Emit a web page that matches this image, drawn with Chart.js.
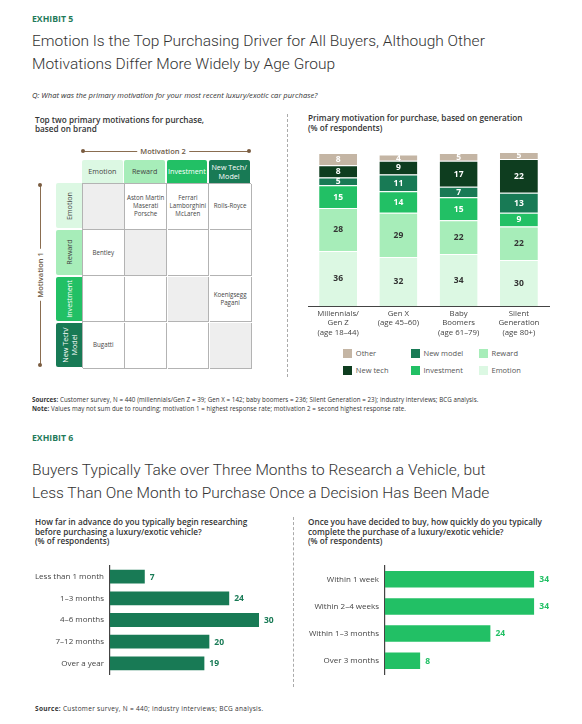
<!DOCTYPE html>
<html>
<head>
<meta charset="utf-8">
<script src="https://cdn.jsdelivr.net/npm/chart.js@4.4.1/dist/chart.umd.min.js"></script>
<style>
  body { margin: 0; background: #fff; font-family: "Open Sans", sans-serif; color: #333; }
  #page { position: relative; width: 582px; height: 724px; overflow: hidden; }
  .abs { position: absolute; white-space: nowrap; }
  .exh { font-weight: 700; font-size: 8.7px; line-height: 10px; color: #1f7a5a; }
  .ttl { font-family: Roboto, sans-serif; font-weight: 300; font-size: 15.5px; line-height: 23.3px; color: #333; }
  .q { font-style: italic; font-size: 7.6px; line-height: 10px; color: #333; }
  .sub { font-weight: 600; font-size: 8.2px; line-height: 9.8px; color: #333; }
  .src { font-size: 6.2px; line-height: 9px; color: #333; letter-spacing: 0.06px; }
  .src2 { font-size: 6.5px; line-height: 9px; color: #333; letter-spacing: 0.3px; }
  .src b, .src2 b { font-weight: 700; }
  .vsep { position: absolute; border-left: 1px dashed #aaa; width: 0; }
  .hdr { position: absolute; display: flex; align-items: center; justify-content: center; text-align: center;
         font-size: 7.2px; line-height: 8.5px; border-radius: 2px 2px 0 0; }
  .rhdr { position: absolute; border-radius: 2px 0 0 2px; }
  .rhdr span { position: absolute; left: 50%; top: 50%; transform: translate(-50%, -50%) rotate(-90deg);
               text-align: center; font-size: 7.2px; line-height: 8.5px; white-space: nowrap; }
  .cell { position: absolute; box-sizing: border-box; border-right: 1px solid #b3b3b3; border-bottom: 1px solid #b3b3b3;
          display: flex; align-items: center; justify-content: center; text-align: center;
          font-size: 6.2px; line-height: 8px; color: #444; }
  .brk { position: absolute; background: #8a6d50; }
  .dot { position: absolute; width: 4px; height: 4px; border-radius: 50%; background: #7a5c40; }
  .brklbl { position: absolute; font-weight: 600; font-size: 7.5px; color: #6e5b48; background: #fff; padding: 0 3px; white-space: nowrap; }
  .leg { position: absolute; font-size: 7.5px; line-height: 9px; color: #555; white-space: nowrap; }
  .leg i { position: absolute; left: 0; top: 0; width: 9px; height: 9px; }
  .leg span { position: absolute; left: 12.5px; top: 0; }
  canvas { position: absolute; }
</style>
</head>
<body>
<div id="page">
  <div class="abs exh" style="left:32px;top:14.3px;">EXHIBIT 5</div>
  <div class="abs ttl" style="left:32px;top:30px;">Emotion Is the Top Purchasing Driver for All Buyers, Although Other<br>Motivations Differ More Widely by Age Group</div>
  <div class="abs q" style="left:32px;top:90px;">Q: What was the primary motivation for your most recent luxury/exotic car purchase?</div>

  <div class="abs sub" style="left:35px;top:114.5px;">Top two primary motivations for purchase,<br>based on brand</div>
  <div class="abs sub" style="left:308px;top:113.3px;">Primary motivation for purchase, based on generation<br>(% of respondents)</div>
  <div class="vsep" style="left:287px;top:114px;height:263px;"></div>

  <div id="matrix"></div>

  <div style="position:absolute;left:300px;top:140px;width:260px;height:206px;"><canvas id="genChart"></canvas></div>
  <div id="legend"></div>

  <div class="abs src" style="left:32px;top:394.5px;"><b>Sources:</b> Customer survey, N = 440 (millennials/Gen Z = 39; Gen X = 142; baby boomers = 236; Silent Generation = 23); industry interviews; BCG analysis.<br><b>Note:</b> Values may not sum due to rounding; motivation 1 = highest response rate; motivation 2 = second highest response rate.</div>

  <div class="abs exh" style="left:32px;top:433px;">EXHIBIT 6</div>
  <div class="abs ttl" style="left:32px;top:458.5px;">Buyers Typically Take over Three Months to Research a Vehicle, but<br>Less Than One Month to Purchase Once a Decision Has Been Made</div>

  <div class="abs sub" style="left:35px;top:516.8px;">How far in advance do you typically begin researching<br>before purchasing a luxury/exotic vehicle?<br>(% of respondents)</div>
  <div class="abs sub" style="left:308px;top:516.8px;">Once you have decided to buy, how quickly do you typically<br>complete the purchase of a luxury/exotic vehicle?<br>(% of respondents)</div>
  <div class="vsep" style="left:293px;top:517px;height:170px;"></div>

  <div style="position:absolute;left:20px;top:555px;width:260px;height:130px;"><canvas id="researchChart"></canvas></div>
  <div style="position:absolute;left:300px;top:555px;width:270px;height:130px;"><canvas id="purchaseChart"></canvas></div>

  <div class="abs src2" style="left:35px;top:703.5px;"><b>Source:</b> Customer survey, N = 440; industry interviews; BCG analysis.</div>
</div>

<script>
// Exhibit 5, left: brand matrix
const motives = ["Emotion", "Reward", "Investment", "New Tech/\nModel"];
const motiveColors = ["#dcf8e3", "#a7edb9", "#22c065", "#187a55"];
const motiveText = ["#444", "#444", "#fff", "#fff"];
const brandGrid = [
  ["", "Aston Martin\nMaserati\nPorsche", "Ferrari\nLamborghini\nMcLaren", "Rolls-Royce"],
  ["Bentley", "", "", ""],
  ["", "", "", "Koenigsegg\nPagani"],
  ["Bugatti", "", "", ""]
];

// Exhibit 5, right: primary motivation by generation (%)
const generations = [["Millennials/", "Gen Z", "(age 18–44)"], ["Gen X", "(age 45–60)"], ["Baby", "Boomers", "(age 61–79)"], ["Silent", "Generation", "(age 80+)"]];
const emotion    = [36, 32, 34, 30];
const reward     = [28, 29, 22, 22];
const investment = [15, 14, 15, 9];
const newModel   = [5, 11, 7, 13];
const newTech    = [8, 9, 17, 22];
const other      = [8, 4, 5, 5];

// Exhibit 6
const researchLabels = ["Less than 1 month", "1–3 months", "4–6 months", "7–12 months", "Over a year"];
const researchValues = [7, 24, 30, 20, 19];
const purchaseLabels = ["Within 1 week", "Within 2–4 weeks", "Within 1–3 months", "Over 3 months"];
const purchaseValues = [34, 34, 24, 8];

const FONT = "'Open Sans', sans-serif";

// ---- matrix ----
(function buildMatrix() {
  const m = document.getElementById("matrix");
  const gx = 82, gy = 183, cw = 42.25, rh = 46.25;
  let html = "";
  // Motivation 2 bracket
  html += `<div class="brk" style="left:83px;top:150.5px;width:166px;height:1px;"></div>`;
  html += `<div class="dot" style="left:81px;top:149px;"></div><div class="dot" style="left:247px;top:149px;"></div>`;
  html += `<div class="brklbl" style="left:163px;top:146px;transform:translateX(-50%);">Motivation 2</div>`;
  // Motivation 1 bracket
  html += `<div class="brk" style="left:39.5px;top:185px;width:1px;height:180px;"></div>`;
  html += `<div class="dot" style="left:38px;top:183px;"></div><div class="dot" style="left:38px;top:363px;"></div>`;
  html += `<div class="brklbl" style="left:40px;top:275px;transform:translate(-50%,-50%) rotate(-90deg);">Motivation 1</div>`;
  // column headers
  motives.forEach((mv, i) => {
    html += `<div class="hdr" style="left:${gx + i * cw}px;top:160px;width:${cw - 1.5}px;height:23px;background:${motiveColors[i]};color:${motiveText[i]};">${mv.replace("\n", "<br>")}</div>`;
  });
  // row headers
  motives.forEach((mv, i) => {
    html += `<div class="rhdr" style="left:56px;top:${gy + i * rh + (i ? 1 : 0)}px;width:25.5px;height:${rh - (i ? 2 : 1)}px;background:${motiveColors[i]};"><span style="color:${motiveText[i]};">${mv.replace("\n", "<br>")}</span></div>`;
  });
  // grid
  html += `<div style="position:absolute;left:${gx}px;top:${gy}px;width:${cw * 4}px;height:${rh * 4}px;box-sizing:border-box;border-left:1px solid #b3b3b3;border-top:1px solid #b3b3b3;"></div>`;
  brandGrid.forEach((row, r) => {
    row.forEach((txt, c) => {
      const bg = r === c ? "#eeeeee" : "#fff";
      html += `<div class="cell" style="left:${gx + c * cw + 1}px;top:${gy + r * rh + 1}px;width:${cw - 0.5}px;height:${rh - 0.5}px;background:${bg};">${txt.replace(/\n/g, "<br>")}</div>`;
    });
  });
  m.innerHTML = html;
})();

// ---- value label plugin ----
const valueLabels = {
  id: "valueLabels",
  afterDatasetsDraw(chart, args, opts) {
    const ctx = chart.ctx;
    ctx.save();
    ctx.font = `700 ${opts.size || 8.5}px ${FONT}`;
    chart.data.datasets.forEach((ds, i) => {
      const meta = chart.getDatasetMeta(i);
      meta.data.forEach((bar, j) => {
        const v = ds.data[j];
        ctx.fillStyle = ds.labelColor;
        ctx.textBaseline = "middle";
        if (opts.inside) {
          ctx.textAlign = "center";
          ctx.fillText(v, bar.x, (bar.y + bar.base) / 2 + 0.5);
        } else {
          ctx.textAlign = "left";
          ctx.fillText(v, bar.x + 5, bar.y + 0.5);
        }
      });
    });
    ctx.restore();
  }
};

// ---- stacked generation chart ----
const genSeries = [
  { label: "Emotion",    data: emotion,    backgroundColor: "#dcf8e3", labelColor: "#333" },
  { label: "Reward",     data: reward,     backgroundColor: "#a7edb9", labelColor: "#333" },
  { label: "Investment", data: investment, backgroundColor: "#22c065", labelColor: "#fff" },
  { label: "New model",  data: newModel,   backgroundColor: "#187a55", labelColor: "#fff" },
  { label: "New tech",   data: newTech,    backgroundColor: "#0e3d1f", labelColor: "#fff" },
  { label: "Other",      data: other,      backgroundColor: "#c4b5a4", labelColor: "#fff" }
];

new Chart(document.getElementById("genChart"), {
  type: "bar",
  data: {
    labels: generations,
    datasets: genSeries.map(s => Object.assign({ borderColor: "#fff", borderWidth: { top: 1 }, borderSkipped: false,
      categoryPercentage: 1, barPercentage: 0.63 }, s))
  },
  options: {
    responsive: true, maintainAspectRatio: false, animation: false,
    layout: { padding: { left: 8, right: 11, top: 13, bottom: 0 } },
    plugins: { legend: { display: false }, tooltip: { enabled: false }, valueLabels: { inside: true, size: 8.5 } },
    scales: {
      x: {
        stacked: true,
        grid: { display: false, drawTicks: false },
        border: { display: true, color: "#444", width: 1 },
        ticks: { color: "#444", font: { family: FONT, size: 7.8, lineHeight: 1.2 }, padding: 3, maxRotation: 0, autoSkip: false },
        afterFit(scale) { scale.height = 40; }
      },
      y: { stacked: true, display: false, min: 0, max: 100 }
    }
  },
  plugins: [valueLabels]
});

// legend
(function buildLegend() {
  const order = ["Other", "New model", "Reward", "New tech", "Investment", "Emotion"];
  const cols = [343.3, 411, 479], rows = [349, 365.7];
  let html = "";
  order.forEach((name, k) => {
    const s = genSeries.find(d => d.label === name);
    html += `<div class="leg" style="left:${cols[k % 3]}px;top:${rows[Math.floor(k / 3)]}px;"><i style="background:${s.backgroundColor};"></i><span>${name}</span></div>`;
  });
  document.getElementById("legend").innerHTML = html;
})();

// ---- horizontal bar charts ----
function hbar(id, labels, values, color, labelColor, yWidth, max, pad, barPct) {
  new Chart(document.getElementById(id), {
    type: "bar",
    data: {
      labels: labels,
      datasets: [{ data: values, backgroundColor: color, labelColor: labelColor, categoryPercentage: 1, barPercentage: barPct }]
    },
    options: {
      indexAxis: "y",
      responsive: true, maintainAspectRatio: false, animation: false,
      layout: { padding: pad },
      plugins: { legend: { display: false }, tooltip: { enabled: false }, valueLabels: { inside: false, size: 8.5 } },
      scales: {
        x: { display: false, min: 0, max: max },
        y: {
          grid: { display: false, drawTicks: false },
          border: { display: true, color: "#444", width: 1.2 },
          ticks: { color: "#444", font: { family: FONT, size: 8 }, padding: 6 },
          afterFit(scale) { scale.width = yWidth; }
        }
      }
    },
    plugins: [valueLabels]
  });
}

hbar("researchChart", researchLabels, researchValues, "#187a55", "#187a55", 90, 30,
  { left: 0, right: 21, top: 7, bottom: 4 }, 0.64);
hbar("purchaseChart", purchaseLabels, purchaseValues, "#22c065", "#22c065", 85, 34,
  { left: 0, right: 35.7, top: 7, bottom: 4 }, 0.61);
</script>
</body>
</html>
